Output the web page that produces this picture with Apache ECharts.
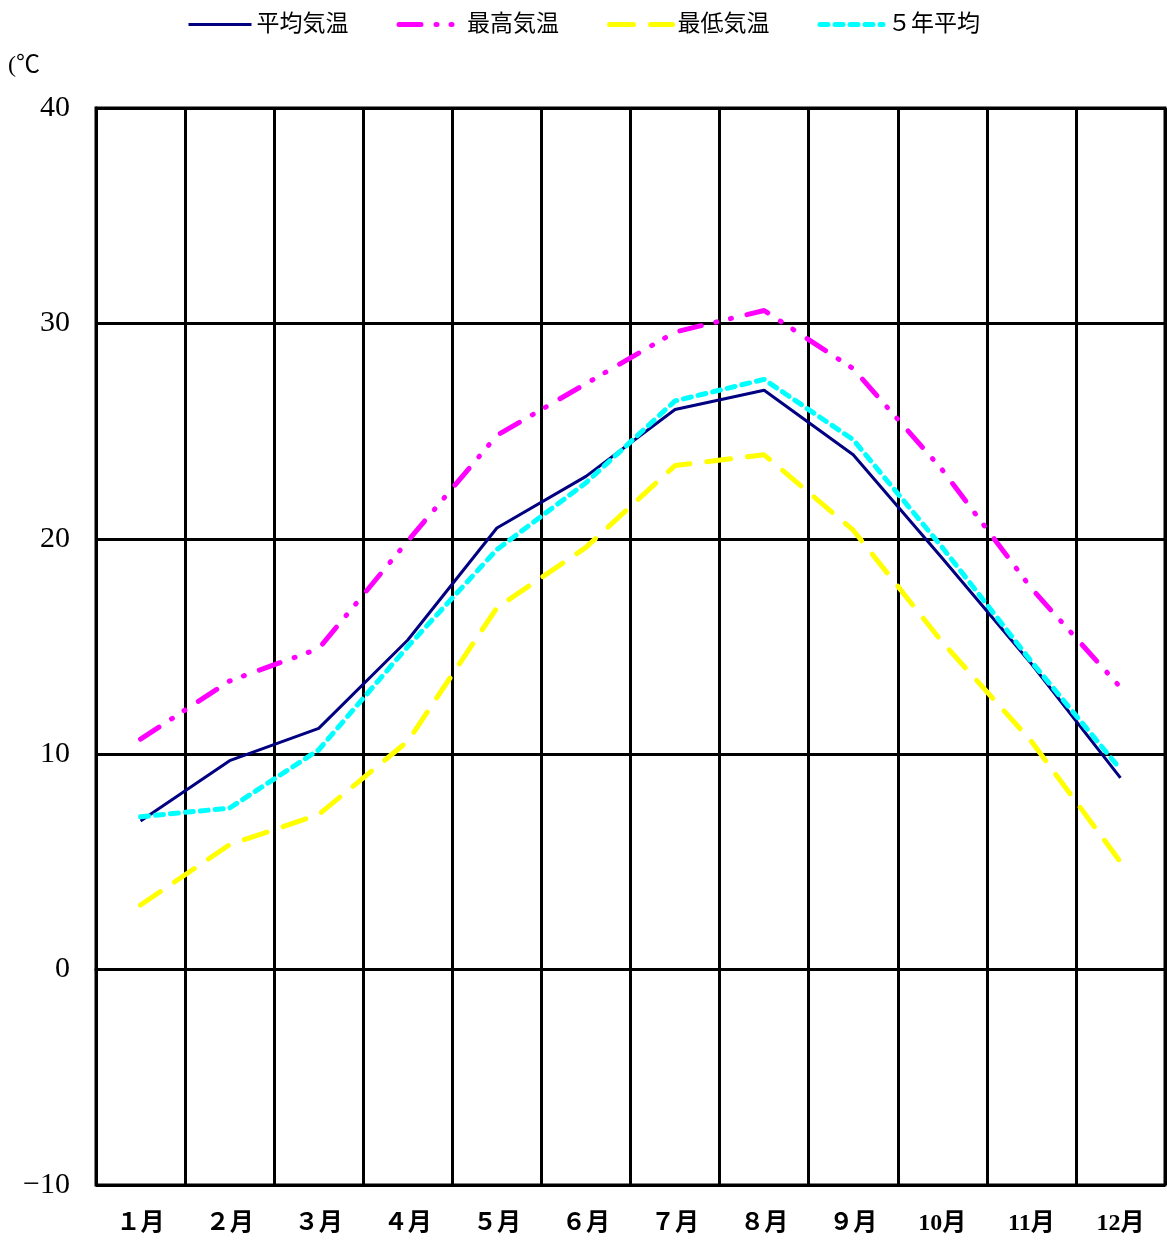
<!DOCTYPE html>
<html>
<head>
<meta charset="utf-8">
<script src="https://cdn.jsdelivr.net/npm/echarts@6/dist/echarts.min.js"></script>
<style>html,body{margin:0;padding:0;background:#fff;}#c{width:1167px;height:1243px;}</style>
</head>
<body>
<div id="c"></div>
<script>
const months = ['１月','２月','３月','４月','５月','６月','７月','８月','９月','10月','11月','12月'];
const avgTemp = [6.9, 9.7, 11.2, 15.3, 20.5, 22.9, 26.0, 26.9, 23.9, 19.1, 14.2, 8.9];
const maxTemp = [10.7, 13.4, 14.9, 19.9, 24.8, 27.2, 29.6, 30.6, 27.9, 23.2, 17.7, 13.1];
const minTemp = [3.0, 5.8, 7.2, 10.6, 16.8, 19.6, 23.4, 23.9, 20.4, 15.2, 10.6, 5.0];
const avg5yr = [7.1, 7.5, 10.2, 15.0, 19.5, 22.6, 26.4, 27.4, 24.6, 19.6, 14.3, 9.3];
const seriesNames = ['平均気温','最高気温','最低気温','５年平均'];

const font = "'Liberation Serif','Noto Sans CJK JP',serif";
const chart = echarts.init(document.getElementById('c'));
chart.setOption({
  animation: false,
  backgroundColor: '#fff',
  textStyle: {fontFamily: font},
  legend: {
    top: 8, left: 'center',
    itemWidth: 63, itemHeight: 14, itemGap: 48,
    itemStyle: {opacity: 0},
    lineStyle: {width: 'inherit'},
    textStyle: {fontFamily: font, fontSize: 23, color: '#000'},
    data: seriesNames
  },
  graphic: [{type: 'text', left: 8, top: 54, style: {text: '(℃', fontFamily: font, fontSize: 24, fill: '#000'}}],
  grid: {left: 96, right: 2, top: 108, bottom: 58, show: true, borderColor: '#000', borderWidth: 3},
  xAxis: {
    type: 'category', data: months, boundaryGap: true,
    axisLine: {lineStyle: {color: '#000', width: 3}},
    axisTick: {show: false},
    splitLine: {show: true, lineStyle: {color: '#000', width: 3}},
    axisLabel: {color: '#000', fontSize: 24, fontWeight: 'bold', margin: 27, fontFamily: font}
  },
  yAxis: {
    type: 'value', min: -10, max: 40, interval: 10,
    axisLine: {show: true, lineStyle: {color: '#000', width: 3}},
    axisTick: {show: false},
    splitLine: {show: true, lineStyle: {color: '#000', width: 3}},
    axisLabel: {color: '#000', fontSize: 30, margin: 26, fontFamily: font,
      formatter: v => String(v).replace('-', '−')}
  },
  series: [
    {name: seriesNames[0], type: 'line', data: avgTemp, symbol: 'none',
     lineStyle: {color: '#000080', width: 3}, itemStyle: {color: '#000080'}},
    {name: seriesNames[1], type: 'line', data: maxTemp, symbol: 'none',
     lineStyle: {color: '#FF00FF', width: 5, type: [22, 15, 1, 14, 1, 16], cap: 'round'}, itemStyle: {color: '#FF00FF'}},
    {name: seriesNames[2], type: 'line', data: minTemp, symbol: 'none',
     lineStyle: {color: '#FFFF00', width: 5, type: [24, 17], cap: 'round'}, itemStyle: {color: '#FFFF00'}},
    {name: seriesNames[3], type: 'line', data: avg5yr, symbol: 'none',
     lineStyle: {color: '#00FFFF', width: 5, type: [8, 7], cap: 'round'}, itemStyle: {color: '#00FFFF'}}
  ]
});
</script>
</body>
</html>
